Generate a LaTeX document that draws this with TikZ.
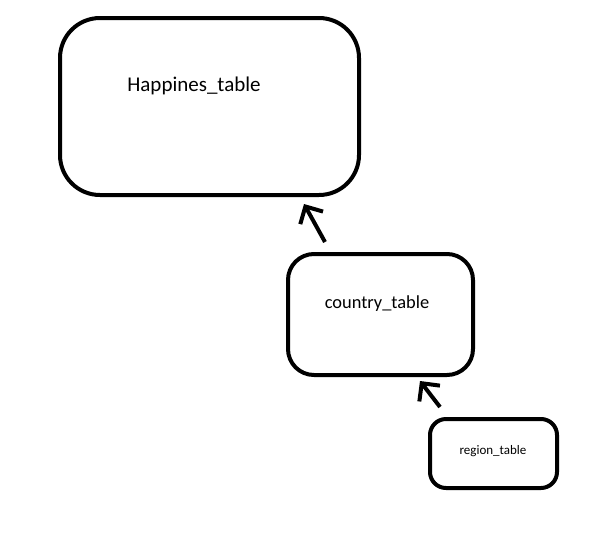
\documentclass[tikz,border=0pt]{standalone}
\usepackage{fontspec}
\setmainfont{Carlito}
\usetikzlibrary{arrows.meta}
\begin{document}
\begin{tikzpicture}[x=1pt,y=-1pt,
  box/.style={draw, line width=4pt, rounded corners=#1},
  lbl/.style={inner sep=0pt, anchor=center},
  arr/.style={line width=4pt, -{Straight Barb[length=13pt,width=26pt,line width=4pt]}}]
\useasboundingbox (0,0) rectangle (615,541);
\draw[box=40pt] (60,18) rectangle (359,195);
\node[lbl, font=\fontsize{21}{25}\selectfont] (happy) at (194,86) {Happines\_table};
\draw[box=26pt] (288,254) rectangle (473,375);
\node[lbl, font=\fontsize{18.4}{22}\selectfont] (country) at (377,304) {country\_table};
\draw[box=16pt] (430,419) rectangle (557,488);
\node[lbl, font=\fontsize{13}{16}\selectfont] (region) at (493,451) {region\_table};
\coordinate (a1s) at (325,242);
\coordinate (a1e) at (304,204);
\coordinate (a2s) at (440,407);
\coordinate (a2e) at (420,381);
\draw[arr] (a1s) -- (a1e);
\draw[arr] (a2s) -- (a2e);
\end{tikzpicture}
\end{document}
